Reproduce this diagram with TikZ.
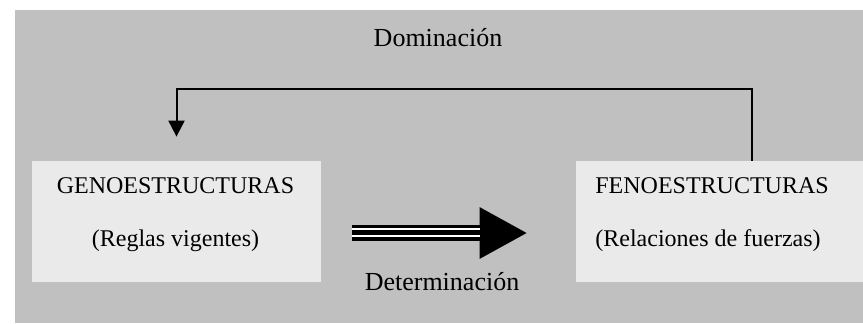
\documentclass[tikz,border=0pt]{standalone}
\usepackage{fontspec}
\setmainfont{Liberation Serif}
\usetikzlibrary{arrows.meta}
\definecolor{fondo}{RGB}{192,192,192}
\definecolor{caja}{RGB}{234,234,234}
\begin{document}
\begin{tikzpicture}[x=0.5pt,y=-0.5pt,
	estructura/.style={fill=caja,minimum height=60.5pt,inner sep=0pt},
	texto/.style={inner sep=0pt,font=\fontsize{12pt}{14pt}\selectfont},
	rotulo/.style={inner sep=0pt,font=\fontsize{13pt}{15pt}\selectfont},
	flecha/.style={line width=1pt,-{Triangle[length=8pt,width=8pt]}},
	gruesa/.style={line width=8pt,-{Triangle[length=24pt,width=24pt]}}]
	\useasboundingbox (0,0) rectangle (863,323);
	\fill[fondo](15,10) rectangle (863,323);
	\node[estructura,minimum width=144.5pt](geno) at (176.5,221.5){};
	\node[estructura,minimum width=143.5pt](feno) at (719.5,221.5){};
	\node[texto,anchor=base](genot) at (175.5,193){GENOESTRUCTURAS};
	\node[texto,anchor=base](genos) at (175.5,246){(Reglas vigentes)};
	\node[texto,anchor=base west](fenot) at (595,193){FENOESTRUCTURAS};
	\node[texto,anchor=base west](fenos) at (595,246){(Relaciones de fuerzas)};
	\node[rotulo,anchor=base](dom) at (438,46){Dominación};
	\node[rotulo,anchor=base](det) at (442,290){Determinación};
	\draw[flecha]([xshift=16.25pt]feno.north) -- ++(0,-72) -| ([yshift=12pt]geno.north);
	\draw[gruesa]([xshift=15.5pt,yshift=-5.75pt]geno.east) coordinate (d1) -- ([xshift=-24pt,yshift=-5.75pt]feno.west) coordinate (d2);
	\draw[white,line width=1pt]([yshift=2.2pt]d1) -- ([xshift=-24pt,yshift=2.2pt]d2);
	\draw[white,line width=1pt]([yshift=-1.7pt]d1) -- ([xshift=-24pt,yshift=-1.7pt]d2);
\end{tikzpicture}
\end{document}
